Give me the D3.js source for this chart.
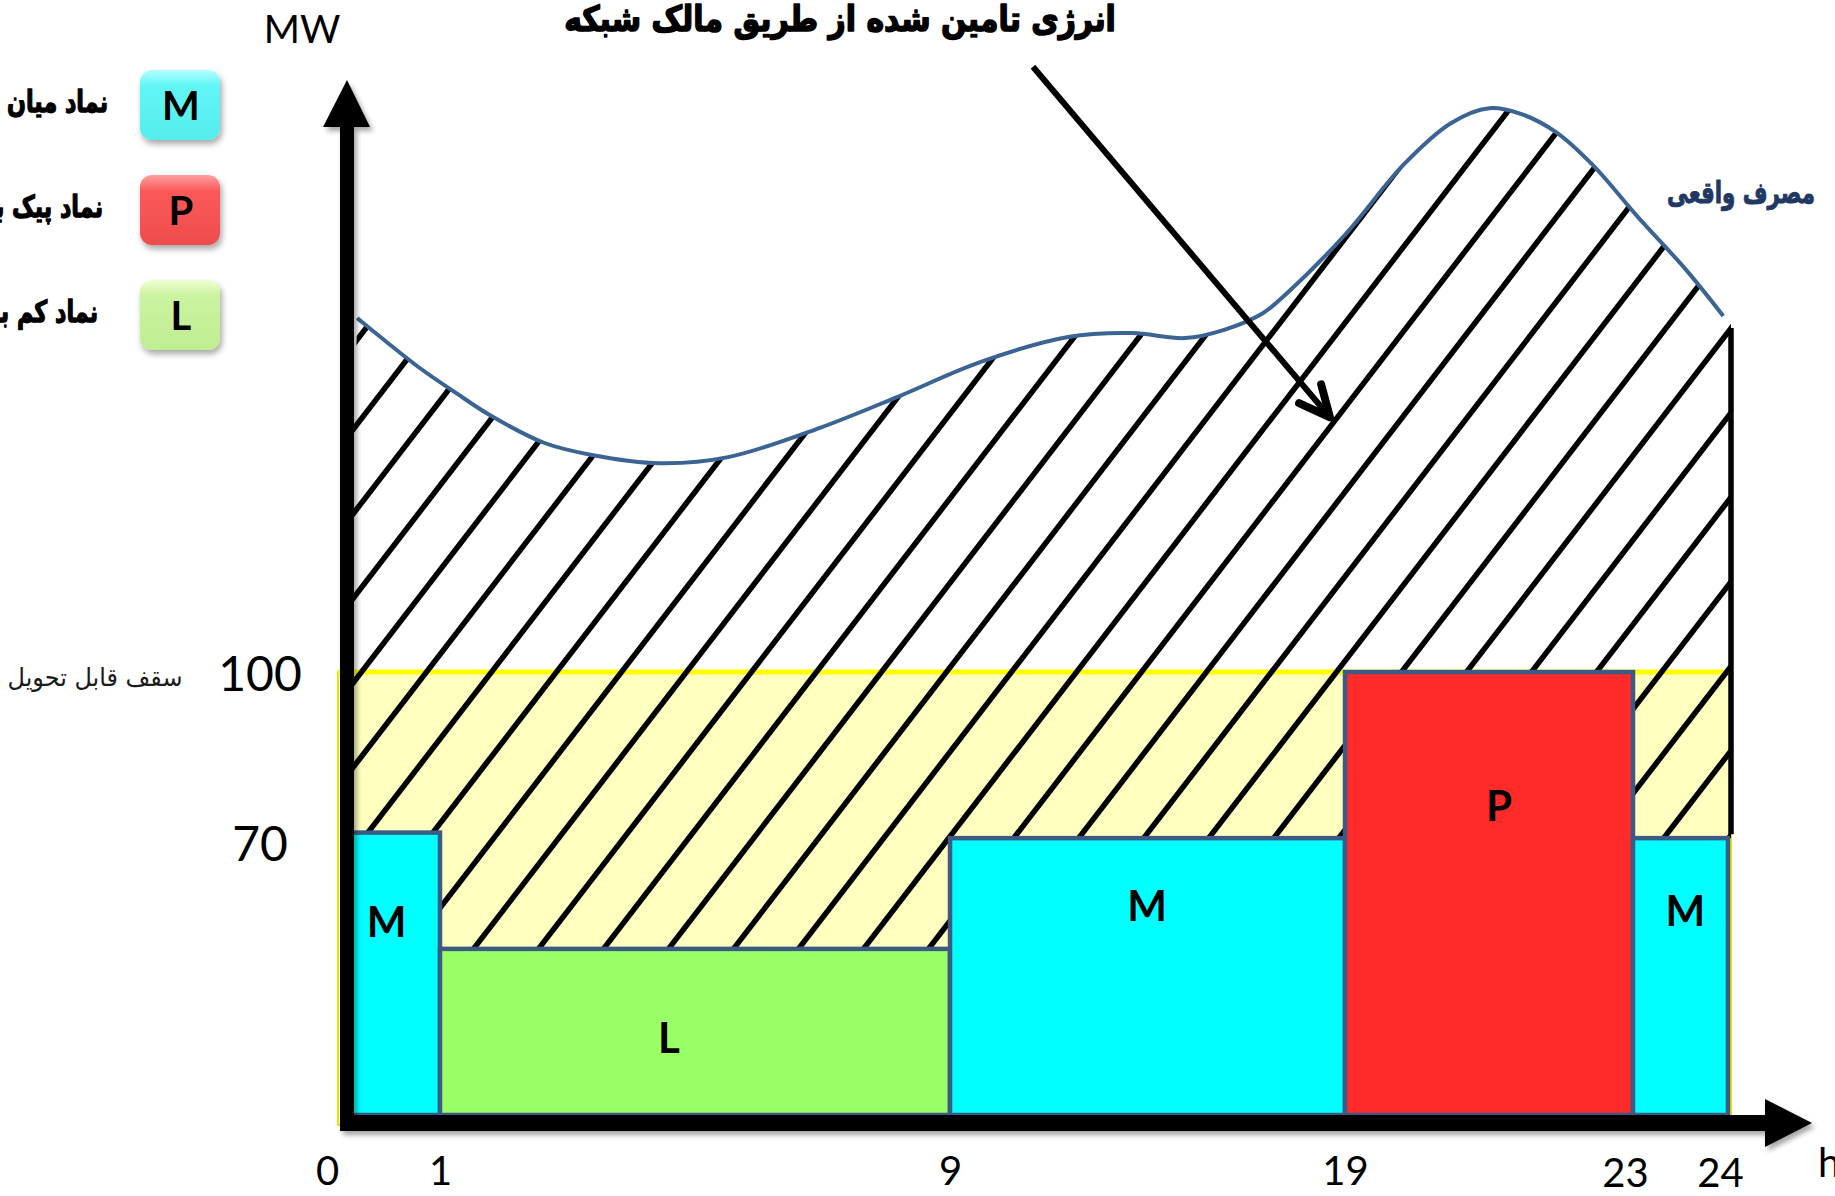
<!DOCTYPE html>
<html><head><meta charset="utf-8">
<script src="https://cdn.jsdelivr.net/npm/d3@7/dist/d3.min.js"></script>
<style>html,body{margin:0;padding:0;background:#fff;overflow:hidden}</style>
</head><body>
<svg id="chart" width="1835" height="1196" xmlns="http://www.w3.org/2000/svg"></svg>
<script>
// ---------------- data ----------------
const hourTicks   = [0, 1, 9, 19, 23, 24];
const mwTicks     = [100, 70];
const capacityMW  = 100;
const axisBaseMW  = 20;

const blockStart  = [0, 1, 9, 19, 23];
const blockEnd    = [1, 9, 19, 23, 24];
const blockMW     = [71, 50, 70, 100, 70];
const blockCode   = ["M", "L", "M", "P", "M"];
const blockLabelHour = [0.42, 4.59, 13.99, 21.14, 23.55];
const blockLabelMW   = [55, 34, 58, 76, 57];

const curveHour = [0.10, 0.39, 0.78, 1.25, 1.78, 2.63, 3.38, 4.45, 5.52, 6.96, 8.18, 9.78, 11.99, 13.61, 14.95, 15.94, 16.92, 17.53, 19.01, 19.82, 20.47, 21.0, 21.44, 21.93, 22.43, 23.05, 23.55, 23.95];
const curveMW   = [163.9, 160.0, 154.9, 150.4, 146.4, 141.4, 139.2, 137.7, 138.8, 144.1, 149.7, 156.0, 160.5, 161.2, 160.3, 161.8, 164.8, 168.4, 179.1, 191.7, 199.1, 201.8, 200.8, 197.5, 191.7, 182.2, 172.8, 164.3];

const legendCodes = ["M", "P", "L"];
const legendNames = ["نماد میان باری", "نماد پیک باری", "نماد کم باری"];

const titleText   = "انرژی تامین شده از طریق مالک شبکه";
const curveName   = "مصرف واقعی";
const capName     = "سقف قابل تحویل";
const yUnit = "MW", xUnit = "h";
// annotation arrow (hour, MW)
const arrowFrom = [11.1, 209.3];
const arrowTo   = [18.62, 146.0];

// ---------------- styles ----------------
const fillOf = {M: "#00FFFF", L: "#99FF66", P: "#FF2A2A"};
const legendGrad = {
  M: ["#b4fefe", "#62f6f6", "#55ecec"],
  P: ["#ffa0a0", "#fb5a5a", "#ef4c4c"],
  L: ["#f0ffd2", "#cbf3a0", "#bfee92"]
};
const LATIN = "Lato, 'Open Sans', sans-serif";
const ARABIC = "'DejaVu Sans', sans-serif";

const svg = d3.select("#chart");
const defs = svg.append("defs");

const x = d3.scaleLinear().domain(hourTicks).range([348, 440, 950, 1345, 1633, 1728]);
const y = d3.scaleLinear().domain([axisBaseMW, capacityMW]).range([1115, 672]);

// filters
const sh = defs.append("filter").attr("id", "sh").attr("x", "-10%").attr("y", "-10%").attr("width", "130%").attr("height", "130%");
sh.append("feDropShadow").attr("dx", 3).attr("dy", 4).attr("stdDeviation", 2.5).attr("flood-color", "#000").attr("flood-opacity", 0.35);
const sh2 = defs.append("filter").attr("id", "sh2").attr("x", "-20%").attr("y", "-20%").attr("width", "150%").attr("height", "150%");
sh2.append("feDropShadow").attr("dx", 2).attr("dy", 4).attr("stdDeviation", 3).attr("flood-color", "#000").attr("flood-opacity", 0.35);

// ------------- yellow capacity band -------------
const xL = x(0) - 10, xR = x(24) + 3;
svg.append("rect")
  .attr("x", xL).attr("y", y(capacityMW))
  .attr("width", xR - xL).attr("height", y(axisBaseMW) + 10 - y(capacityMW))
  .attr("fill", "#FFFFC0").attr("stroke", "#E8E800").attr("stroke-width", 2);
svg.append("line")
  .attr("x1", xL).attr("x2", xR).attr("y1", y(capacityMW)).attr("y2", y(capacityMW))
  .attr("stroke", "#FFFF00").attr("stroke-width", 5);

// ------------- hatch area clip -------------
const curvePts = curveHour.map((h, i) => [x(h), y(curveMW[i])]);
const lineGen = d3.line().curve(d3.curveCatmullRom.alpha(0.5));
const curveD = lineGen(curvePts);
const last = curvePts[curvePts.length - 1];
let clipD = curveD + `L${xR},${last[1]}L${xR},${y(blockMW[blockMW.length - 1])}`;
for (let i = blockStart.length - 1; i >= 0; i--) {
  clipD += `L${x(blockEnd[i])},${y(blockMW[i])}L${i === 0 ? x(0) - 6 : x(blockStart[i])},${y(blockMW[i])}`;
}
clipD += "Z";
defs.append("clipPath").attr("id", "hatchClip").append("path").attr("d", clipD);

const HS = 1.3, HSP = 65, hx0 = x(0) + 13.5, hy0 = y(capacityMW);
const hatch = [];
for (let k = -12; k <= 40; k++) {
  const c = hx0 + k * HSP;
  const yb = 1140, yt = 40;
  hatch.push([[c - (yb - hy0) / HS, yb], [c + (hy0 - yt) / HS, yt]]);
}
svg.append("g").attr("clip-path", "url(#hatchClip)")
  .selectAll("line").data(hatch).join("line")
  .attr("x1", d => d[0][0]).attr("y1", d => d[0][1])
  .attr("x2", d => d[1][0]).attr("y2", d => d[1][1])
  .attr("stroke", "#000").attr("stroke-width", 5.5);

// ------------- bars -------------
const idx = d3.range(blockStart.length);
svg.append("g").selectAll("rect").data(idx).join("rect")
  .attr("x", i => x(blockStart[i])).attr("y", i => y(blockMW[i]))
  .attr("width", i => x(blockEnd[i]) - x(blockStart[i]))
  .attr("height", i => y(axisBaseMW) - y(blockMW[i]))
  .attr("fill", i => fillOf[blockCode[i]])
  .attr("stroke", "#3B5B84").attr("stroke-width", 4.5);
svg.append("g").selectAll("text").data(idx).join("text")
  .attr("x", i => x(blockLabelHour[i]))
  .attr("y", i => y(blockLabelMW[i]))
  .attr("text-anchor", "middle").attr("dominant-baseline", "central")
  .attr("font-family", LATIN).attr("font-weight", 700).attr("font-size", 42)
  .attr("fill", "#000").text(i => blockCode[i]);

// ------------- curve -------------
svg.append("path").attr("d", curveD).attr("fill", "none")
  .attr("stroke", "#3B6494").attr("stroke-width", 4);

// right vertical line
svg.append("line").attr("x1", xR).attr("x2", xR)
  .attr("y1", last[1] + 12).attr("y2", y(blockMW[blockMW.length - 1]) - 4)
  .attr("stroke", "#000").attr("stroke-width", 5.5);

// ------------- axes (arrows) -------------
const ax = svg.append("g").attr("filter", "url(#sh)");
const yAxX = x(0) - 1, xAxY = y(axisBaseMW) + 8;
ax.append("path").attr("d", `M${yAxX - 7},${xAxY + 8}L${yAxX - 7},127L${yAxX - 24},127L${yAxX},80L${yAxX + 23},127L${yAxX + 7},127L${yAxX + 7},${xAxY + 8}Z`).attr("fill", "#000");
ax.append("path").attr("d", `M${yAxX - 7},${xAxY - 8}L1765,${xAxY - 8}L1765,${xAxY - 24}L1812,${xAxY}L1765,${xAxY + 24}L1765,${xAxY + 8}L${yAxX - 7},${xAxY + 8}Z`).attr("fill", "#000");

// x tick labels
const gx = svg.append("g").attr("transform", "translate(0,1185)")
  .call(d3.axisBottom(x).tickValues(hourTicks).tickSize(0).tickPadding(0).tickFormat(d3.format("d")));
gx.select(".domain").remove();
gx.attr("font-family", null).attr("font-size", null);
gx.selectAll("text").attr("y", d => d >= 23 ? 2 : 0).attr("dy", 0)
  .attr("dx", d => d === 0 ? -21 : (d >= 23 ? -8 : 0))
  .attr("font-family", LATIN).attr("font-size", 40).attr("fill", "#000");

// y tick labels
const gy = svg.append("g").attr("transform", "translate(260,0)")
  .call(d3.axisLeft(y).tickValues(mwTicks).tickSize(0).tickPadding(0).tickFormat(d3.format("d")));
gy.select(".domain").remove();
gy.attr("font-family", null).attr("font-size", null);
gy.selectAll("text").attr("x", 0).attr("text-anchor", "middle")
  .attr("dy", d => d === 70 ? "0.47em" : "0.38em")
  .attr("font-family", LATIN).attr("font-size", 48).attr("fill", "#000");

// unit labels
svg.append("text").attr("x", 302).attr("y", 43).attr("text-anchor", "middle")
  .attr("font-family", LATIN).attr("font-size", 39).attr("fill", "#000").text(yUnit);
svg.append("text").attr("x", 1818).attr("y", 1177)
  .attr("font-family", LATIN).attr("font-size", 40).attr("fill", "#000").text(xUnit);

// ------------- Arabic texts (heavy, horizontally fitted) -------------
function placeFitted(text, cx, base, fs, target, opts) {
  const t = svg.append("text").attr("x", 0).attr("y", 0).attr("text-anchor", "middle")
    .attr("font-family", ARABIC).attr("font-weight", opts.bold ? 700 : 400)
    .attr("font-size", fs).attr("fill", opts.color)
    .attr("stroke", opts.stroke ? opts.color : null).attr("stroke-width", opts.stroke || null)
    .attr("stroke-linejoin", "round")
    .text(text);
  const w = t.node().getComputedTextLength();
  const sx = w > 0 ? target / w : 1;
  t.attr("transform", `translate(${cx},${base}) scale(${sx},1)`);
  return t;
}
placeFitted(titleText, 840, 31, 35, 552, {bold: true, color: "#000", stroke: 1.6});
placeFitted(curveName, 1741, 203, 30, 148, {bold: true, color: "#1F3864", stroke: 1.0});
placeFitted(capName, 95, 686, 25, 175, {bold: false, color: "#1a1a1a"});

// annotation arrow
const aF = [x(arrowFrom[0]), y(arrowFrom[1])], aT = [x(arrowTo[0]), y(arrowTo[1])];
svg.append("line").attr("x1", aF[0]).attr("y1", aF[1]).attr("x2", aT[0]).attr("y2", aT[1])
  .attr("stroke", "#000").attr("stroke-width", 6);
const ang = Math.atan2(aF[1] - aT[1], aF[0] - aT[0]);
const arm = (a) => [aT[0] + 34 * Math.cos(ang + a), aT[1] + 34 * Math.sin(ang + a)];
const a1 = arm(0.44), a2 = arm(-0.44);
svg.append("path").attr("d", `M${a1}L${aT}L${a2}`).attr("fill", "none")
  .attr("stroke", "#000").attr("stroke-width", 8).attr("stroke-linecap", "round").attr("stroke-linejoin", "round");

// ------------- legend -------------
const ly = d3.scalePoint().domain(legendCodes).range([105, 315]);
legendCodes.forEach(c => {
  const g = defs.append("linearGradient").attr("id", "lg" + c).attr("x1", 0).attr("y1", 0).attr("x2", 0).attr("y2", 1);
  g.append("stop").attr("offset", 0).attr("stop-color", legendGrad[c][0]);
  g.append("stop").attr("offset", 0.22).attr("stop-color", legendGrad[c][1]);
  g.append("stop").attr("offset", 1).attr("stop-color", legendGrad[c][2]);
});
const lg = svg.append("g");
lg.selectAll("rect").data(legendCodes).join("rect")
  .attr("x", 140).attr("y", d => ly(d) - 35).attr("width", 80).attr("height", 70)
  .attr("rx", 12).attr("fill", d => `url(#lg${d})`).attr("filter", "url(#sh2)");
lg.selectAll("text.code").data(legendCodes).join("text").attr("class", "code")
  .attr("x", 181).attr("y", d => ly(d)).attr("text-anchor", "middle").attr("dominant-baseline", "central")
  .attr("font-family", LATIN).attr("font-weight", 700).attr("font-size", 40).attr("fill", "#000")
  .text(d => d);

// legend names: centred on a common axis, overflowing the left edge like the original
const probe = svg.append("text").attr("font-family", ARABIC).attr("font-weight", 700).attr("font-size", 30)
  .attr("stroke", "#000").attr("stroke-width", 1.3).text("نماد میان");
const wPart = probe.node().getComputedTextLength();
probe.text(legendNames[0]);
const wFull = probe.node().getComputedTextLength();
probe.remove();
const sxN = 101 / wPart;
const cxN = 108 - wFull * sxN / 2;
lg.selectAll("text.name").data(legendCodes).join("text").attr("class", "name")
  .attr("x", 0).attr("y", 0).attr("text-anchor", "middle")
  .attr("transform", d => `translate(${cxN},${ly(d) + 7}) scale(${sxN},1)`)
  .attr("font-family", ARABIC).attr("font-weight", 700).attr("font-size", 30).attr("fill", "#000")
  .attr("stroke", "#000").attr("stroke-width", 1.3).attr("stroke-linejoin", "round")
  .text((d, i) => legendNames[i]);
</script>
</body></html>
